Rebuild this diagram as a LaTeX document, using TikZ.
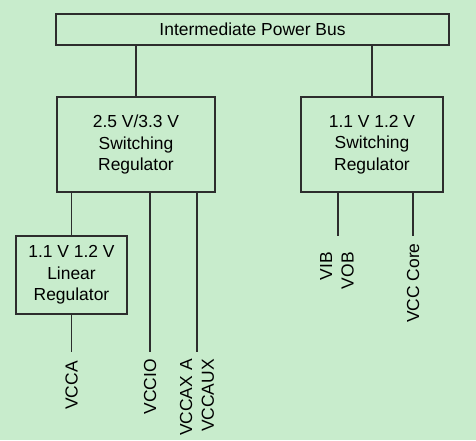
\documentclass[tikz,border=0pt]{standalone}
\usepackage{fontspec}
\setmainfont{Liberation Sans}
\definecolor{bg}{RGB}{200,236,204}
\definecolor{ln}{RGB}{45,45,45}

\begin{document}
\begin{tikzpicture}[font=\fontsize{12.4}{15.3}\selectfont,
		box/.style={draw=ln,line width=1pt,align=center,inner sep=0pt},
		lbl/.style={rotate=90,anchor=east,align=right,inner sep=0pt},
		wire/.style={draw=ln,line width=1pt}]
		\fill[bg](0,0)rectangle(11.9,11);
		% boxes
		\node[box,minimum width=9.825cm,minimum height=0.775cm](bus)at(6.3125,10.2625){Intermediate Power Bus};
		\node[box,minimum width=3.95cm,minimum height=2.375cm](swa)at(3.4,7.3875){2.5 V/3.3 V\\Switching\\Regulator};
		\node[box,minimum width=3.55cm,minimum height=2.375cm](swb)at(9.3,7.3875){1.1 V 1.2 V\\Switching\\Regulator};
		\node[box,minimum width=2.775cm,minimum height=1.95cm](lin)at(1.7875,4.125){1.1 V 1.2 V\\Linear\\Regulator};
		% free ends
		\coordinate(vcca)at(1.7875,2.2);
		\coordinate(vccio)at(3.75,2.2);
		\coordinate(vccaux)at(4.925,2.2);
		\coordinate(vob)at(8.45,5.1);
		\coordinate(core)at(10.325,5.1);
		% wires
		\draw[wire](swa.north|-bus.south)--(swa.north);
		\draw[wire](swb.north|-bus.south)--(swb.north);
		\draw[wire](lin.north|-swa.south)--(lin.north);
		\draw[wire](lin.south)--(vcca);
		\draw[wire](vccio|-swa.south)--(vccio);
		\draw[wire](vccaux|-swa.south)--(vccaux);
		\draw[wire](vob|-swb.south)--(vob);
		\draw[wire](core|-swb.south)--(core);
		% labels
		\node[lbl](tvcca)at(1.7875,1.975){VCCA};
		\node[lbl](tvccio)at(3.75,2.025){VCCIO};
		\node[lbl](tvccaux)at(4.925,2.025){VCCAX A\\VCCAUX};
		\node[lbl](tvob)at(8.425,4.7){VIB\\VOB};
		\node[lbl](tcore)at(10.325,4.925){VCC Core};
		\end{tikzpicture}
\end{document}
